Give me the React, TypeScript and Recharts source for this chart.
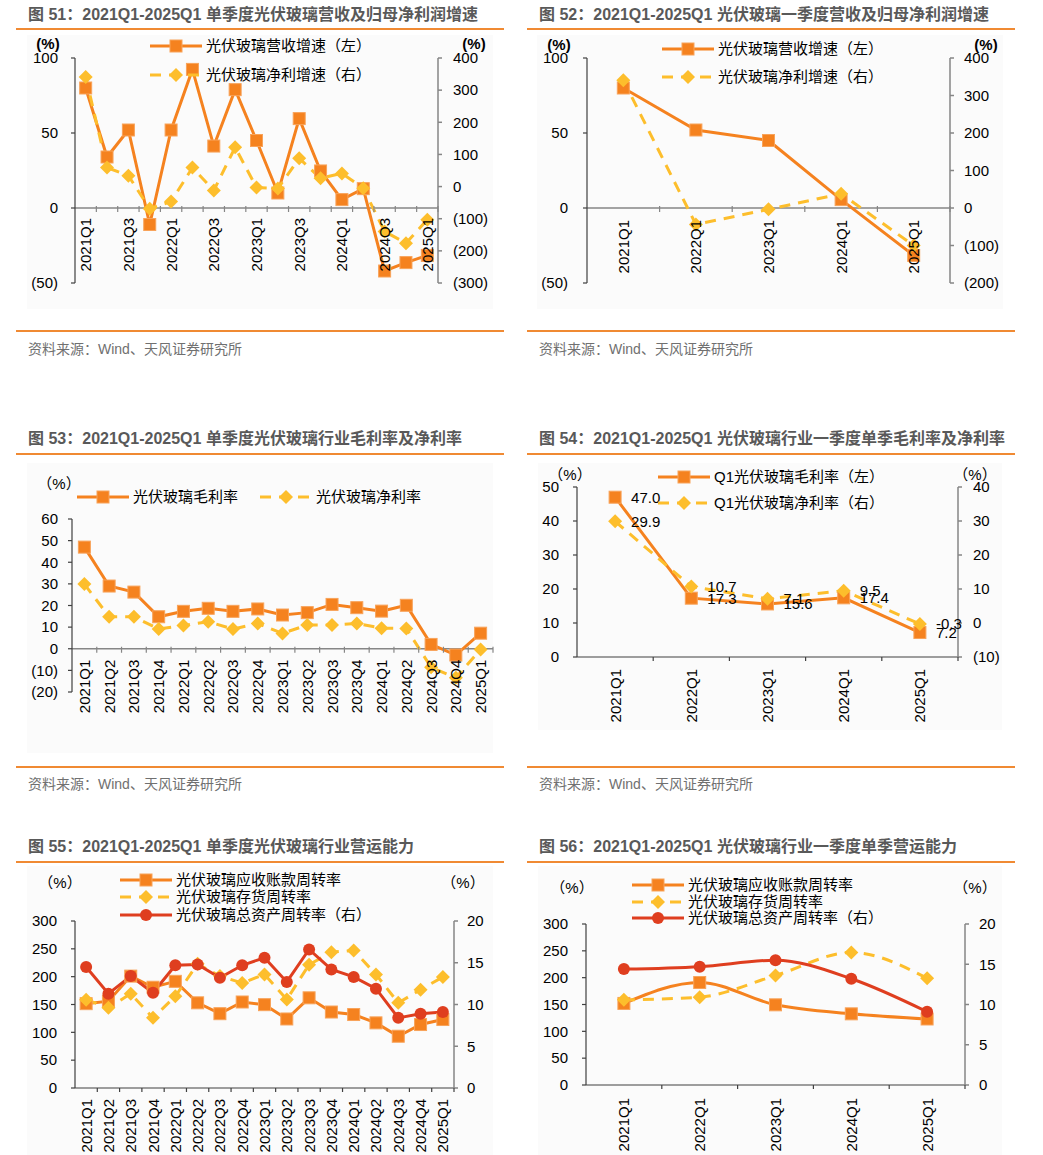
import React from 'react';
import { LineChart, Line, XAxis, YAxis, ReferenceLine, Legend, LabelList } from 'recharts';

// ---------- data ----------
const quarters = ['2021Q1', '2021Q2', '2021Q3', '2021Q4', '2022Q1', '2022Q2', '2022Q3', '2022Q4', '2023Q1', '2023Q2', '2023Q3', '2023Q4', '2024Q1', '2024Q2', '2024Q3', '2024Q4', '2025Q1'];
const firstQuarters = ['2021Q1', '2022Q1', '2023Q1', '2024Q1', '2025Q1'];

const revenueGrowth = [80, 34, 52, -11, 52, 92.4, 41.3, 78.9, 45, 10, 59.6, 24.7, 5.6, 12.9, -42, -36.4, -31.6];
const profitGrowth = [341, 59, 34, -69, -46.5, 59, -12, 122, -3, -6, 88, 26, 41, -5, -140, -176, -103];
const q1RevenueGrowth = [80, 52, 45, 5.6, -31.6];
const q1ProfitGrowth = [341, -44, -3.6, 38, -100];

const grossMargin = [47.0, 29, 26.2, 14.8, 17.3, 18.7, 17.3, 18.4, 15.6, 16.7, 20.5, 19, 17.4, 20.1, 2, -2.9, 7.2];
const netMargin = [29.9, 14.8, 14.8, 9.1, 10.7, 12.5, 9.1, 11.7, 7.1, 11, 11, 11.7, 9.5, 9.4, -8.6, -13.4, -0.3];
const q1GrossMargin = [47.0, 17.3, 15.6, 17.4, 7.2];
const q1NetMargin = [29.9, 10.7, 7.1, 9.5, -0.3];

const receivableTurnover = [151.5, 156, 201, 181, 191.6, 153, 133.5, 154.5, 149.7, 124, 162, 136.5, 132, 117, 93, 114, 123];
const inventoryTurnover = [158.7, 144, 169.5, 126, 164.7, 223, 201, 188.6, 204, 159, 221.6, 244, 247, 204, 153, 176.6, 199.4];
const assetTurnover = [14.5, 11.3, 13.4, 11.4, 14.7, 14.8, 13.2, 14.7, 15.6, 12.7, 16.6, 14.2, 13.3, 11.9, 8.4, 8.9, 9.1];
const q1Receivable = [152, 191, 149.4, 132.6, 123];
const q1Inventory = [158.7, 163.7, 204, 247, 199];
const q1Asset = [14.4, 14.7, 15.5, 13.2, 9.1];

// tick labels
const growthLeftTicks = [-50, 0, 50, 100];
const growthRightTicks51 = [-300, -200, -100, 0, 100, 200, 300, 400];
const growthRightTicks52 = [-200, -100, 0, 100, 200, 300, 400];
const marginTicks53 = [-20, -10, 0, 10, 20, 30, 40, 50, 60];
const marginLeftTicks54 = [0, 10, 20, 30, 40, 50];
const marginRightTicks54 = [-10, 0, 10, 20, 30, 40];
const turnoverLeftTicks = [0, 50, 100, 150, 200, 250, 300];
const turnoverRightTicks = [0, 5, 10, 15, 20];

// ---------- styles ----------
const FONT = '"Liberation Sans", Arial, "Noto Sans CJK SC", sans-serif';
const ORANGE = '#F5821F';
const YELLOW = '#FDBE2C';
const RED = '#DF3E1F';
const AXIS_DARK = '#404040';
const AXIS_GRAY = '#868686';
const RULE = '#F08A33';
const TITLE = '#595959';

const fmtParen = (v: number) => (v < 0 ? `(${-v})` : `${v}`);

type Marker = 'square' | 'diamond' | 'circle';
type Series = { key: string; name: string; axis: 'left' | 'right'; color: string; dash?: string; marker: Marker; smooth?: boolean; labels?: boolean };

function drawMarker(marker: Marker, color: string, cx: number, cy: number, key?: string) {
  if (marker === 'square') return <rect key={key} x={cx - 6} y={cy - 6} width={12} height={12} fill={color} stroke="#F8A35A" strokeWidth={1} />;
  if (marker === 'diamond') return <polygon key={key} points={`${cx},${cy - 7} ${cx + 7},${cy} ${cx},${cy + 7} ${cx - 7},${cy}`} fill={color} />;
  return <circle key={key} cx={cx} cy={cy} r={6} fill={color} />;
}

const makeDot = (s: Series) => (p: any) => {
  const { cx, cy, index } = p;
  if (cx == null || cy == null || isNaN(cx) || isNaN(cy)) return <g key={`d${s.key}${index}`} />;
  return drawMarker(s.marker, s.color, cx, cy, `d${s.key}${index}`);
};

type Cfg = {
  ox: number; oy: number; w: number; h: number;
  plot: { l: number; r: number; t: number; b: number };
  leftDomain: [number, number]; leftTicks: number[]; leftW: number; leftGap: number;
  rightDomain?: [number, number]; rightTicks?: number[]; rightW?: number; rightGap?: number;
  categories: string[]; values: Record<string, number[]>; series: Series[];
  zeroAxis: boolean; labelEvery: number; labelGap: number; xH: number;
  legendPos: { x: number; y: number }[];
  pct: { x: number; y: number; text: string; bold?: boolean }[];
};

function Panel({ cfg }: { cfg: Cfg }) {
  const { ox, oy, w, h, plot } = cfg;
  const hasRight = !!cfg.rightDomain;
  const margin = {
    left: plot.l - ox - cfg.leftW,
    right: ox + w - plot.r - (hasRight ? cfg.rightW! : 0),
    top: plot.t - oy,
    bottom: oy + h - plot.b - cfg.xH,
  };
  const ph = plot.b - plot.t;
  const band = (plot.r - plot.l) / cfg.categories.length;
  const shift = cfg.zeroAxis ? ((0 - cfg.leftDomain[0]) / (cfg.leftDomain[1] - cfg.leftDomain[0])) * ph : 0;
  const data = cfg.categories.map((c, i) => {
    const row: any = { cat: c };
    cfg.series.forEach((s) => (row[s.key] = cfg.values[s.key][i]));
    return row;
  });

  const tick = (p: any) => {
    const { x, y, payload, index } = p;
    const zy = y - shift;
    const bx = x + band / 2;
    const ty = zy + cfg.labelGap;
    return (
      <g>
        <line x1={bx} x2={bx} y1={cfg.zeroAxis ? zy - 2 : zy} y2={zy + 4} stroke={cfg.zeroAxis ? AXIS_GRAY : AXIS_DARK} strokeWidth={1.2} />
        {index % cfg.labelEvery === 0 && (
          <text x={x} y={ty} transform={`rotate(-90 ${x} ${ty})`} textAnchor="end" dominantBaseline="central" fontSize={15} fill="#000" fontFamily={FONT}>
            {payload.value}
          </text>
        )}
      </g>
    );
  };

  const legendContent = (props: any) => {
    const payload: any[] = props.payload || [];
    return (
      <div style={{ position: 'relative', width: w, height: h, pointerEvents: 'none' }}>
        {payload.map((entry: any) => {
          const idx = cfg.series.findIndex((s) => s.key === entry.dataKey);
          if (idx < 0) return null;
          const s = cfg.series[idx];
          const pos = cfg.legendPos[idx];
          return (
            <div key={s.key} style={{ position: 'absolute', left: pos.x - ox, top: pos.y - oy - 10, height: 20, display: 'flex', alignItems: 'center', whiteSpace: 'nowrap' }}>
              <svg width={52} height={20} style={{ display: 'block' }}>
                <line x1={0} x2={52} y1={10} y2={10} stroke={s.color} strokeWidth={3} strokeDasharray={s.dash} />
                {drawMarker(s.marker, s.color, 26, 10)}
              </svg>
              <span style={{ marginLeft: 4, fontSize: 15, color: '#000', fontFamily: FONT, lineHeight: '20px' }}>{entry.value}</span>
            </div>
          );
        })}
      </div>
    );
  };

  return (
    <div style={{ position: 'absolute', left: ox, top: oy, width: w, height: h }}>
      <LineChart width={w} height={h} data={data} margin={margin} style={{ fontFamily: FONT }}>
        <XAxis
          dataKey="cat"
          scale="point"
          padding={{ left: band / 2, right: band / 2 }}
          height={cfg.xH}
          tickSize={0}
          tickMargin={0}
          tickLine={false}
          axisLine={cfg.zeroAxis ? false : { stroke: AXIS_DARK, strokeWidth: 1.2 }}
          interval={0}
          tick={tick}
        />
        <YAxis
          yAxisId="left"
          type="number"
          domain={cfg.leftDomain}
          ticks={cfg.leftTicks}
          interval={0}
          allowDataOverflow
          width={cfg.leftW}
          tickSize={4}
          tickMargin={cfg.leftGap - 4}
          axisLine={{ stroke: AXIS_DARK, strokeWidth: 1.2 }}
          tickLine={{ stroke: AXIS_DARK, strokeWidth: 1.2 }}
          tick={{ fill: '#000', fontSize: 15, fontFamily: FONT }}
          tickFormatter={fmtParen}
        />
        {hasRight && (
          <YAxis
            yAxisId="right"
            orientation="right"
            type="number"
            domain={cfg.rightDomain}
            ticks={cfg.rightTicks}
            interval={0}
            allowDataOverflow
            width={cfg.rightW}
            tickSize={4}
            tickMargin={cfg.rightGap! - 4}
            axisLine={{ stroke: AXIS_GRAY, strokeWidth: 1.5 }}
            tickLine={{ stroke: AXIS_GRAY, strokeWidth: 1.5 }}
            tick={{ fill: '#000', fontSize: 15, fontFamily: FONT }}
            tickFormatter={fmtParen}
          />
        )}
        {cfg.zeroAxis && <ReferenceLine y={0} yAxisId="left" stroke={AXIS_GRAY} strokeWidth={1.5} />}
        {cfg.series.map((s) => (
          <Line
            key={s.key}
            yAxisId={s.axis}
            dataKey={s.key}
            name={s.name}
            type={s.smooth ? 'monotone' : 'linear'}
            stroke={s.color}
            strokeWidth={3}
            strokeDasharray={s.dash}
            dot={makeDot(s)}
            activeDot={false}
            isAnimationActive={false}
          >
            {s.labels && (
              <LabelList
                dataKey={s.key}
                position="right"
                offset={16}
                fill="#000"
                fontSize={15}
                fontFamily={FONT}
                formatter={(v: any) => Number(v).toFixed(1)}
              />
            )}
          </Line>
        ))}
        <Legend
          layout="horizontal"
          verticalAlign="middle"
          align="center"
          content={legendContent}
          wrapperStyle={{ left: 0, top: 0, width: w, height: h, pointerEvents: 'none' }}
        />
      </LineChart>
      {cfg.pct.map((p, i) => (
        <div
          key={i}
          style={{ position: 'absolute', left: p.x - ox, top: p.y - oy, transform: 'translate(-50%, -50%)', fontSize: 15, fontWeight: p.bold ? 700 : 400, color: '#000', whiteSpace: 'nowrap', fontFamily: FONT, lineHeight: '18px' }}
        >
          {p.text}
        </div>
      ))}
    </div>
  );
}

const growthSeries: Series[] = [
  { key: 'rev', name: '光伏玻璃营收增速（左）', axis: 'left', color: ORANGE, marker: 'square' },
  { key: 'profit', name: '光伏玻璃净利增速（右）', axis: 'right', color: YELLOW, dash: '11 8', marker: 'diamond' },
];
const marginSeries53: Series[] = [
  { key: 'gross', name: '光伏玻璃毛利率', axis: 'left', color: ORANGE, marker: 'square' },
  { key: 'net', name: '光伏玻璃净利率', axis: 'left', color: YELLOW, dash: '11 8', marker: 'diamond' },
];
const marginSeries54: Series[] = [
  { key: 'gross', name: 'Q1光伏玻璃毛利率（左）', axis: 'left', color: ORANGE, marker: 'square', labels: true },
  { key: 'net', name: 'Q1光伏玻璃净利率（右）', axis: 'right', color: YELLOW, dash: '11 8', marker: 'diamond', labels: true },
];
const turnoverSeries = (smooth: boolean): Series[] => [
  { key: 'recv', name: '光伏玻璃应收账款周转率', axis: 'left', color: ORANGE, marker: 'square', smooth },
  { key: 'inv', name: '光伏玻璃存货周转率', axis: 'left', color: YELLOW, dash: '11 8', marker: 'diamond', smooth },
  { key: 'asset', name: '光伏玻璃总资产周转率（右）', axis: 'right', color: RED, marker: 'circle', smooth },
];

const cfg51: Cfg = {
  ox: 16, oy: 35, w: 488, h: 290,
  plot: { l: 75, r: 438, t: 58, b: 283 },
  leftDomain: [-50, 100], leftTicks: growthLeftTicks, leftW: 50, leftGap: 17,
  rightDomain: [-300, 400], rightTicks: growthRightTicks51, rightW: 56, rightGap: 15,
  categories: quarters, values: { rev: revenueGrowth, profit: profitGrowth }, series: growthSeries,
  zeroAxis: true, labelEvery: 2, labelGap: 10, xH: 1,
  legendPos: [{ x: 150, y: 46 }, { x: 150, y: 75 }],
  pct: [{ x: 48, y: 44, text: '(%)', bold: true }, { x: 474, y: 44, text: '(%)', bold: true }],
};
const cfg52: Cfg = {
  ox: 527, oy: 35, w: 488, h: 290,
  plot: { l: 587, r: 950, t: 58, b: 283 },
  leftDomain: [-50, 100], leftTicks: growthLeftTicks, leftW: 50, leftGap: 19,
  rightDomain: [-200, 400], rightTicks: growthRightTicks52, rightW: 56, rightGap: 14,
  categories: firstQuarters, values: { rev: q1RevenueGrowth, profit: q1ProfitGrowth }, series: growthSeries,
  zeroAxis: true, labelEvery: 1, labelGap: 12, xH: 1,
  legendPos: [{ x: 662, y: 49 }, { x: 662, y: 77 }],
  pct: [{ x: 559, y: 45, text: '(%)', bold: true }, { x: 986, y: 45, text: '(%)', bold: true }],
};
const cfg53: Cfg = {
  ox: 16, oy: 460, w: 488, h: 300,
  plot: { l: 72, r: 493, t: 519, b: 692 },
  leftDomain: [-20, 60], leftTicks: marginTicks53, leftW: 50, leftGap: 14,
  categories: quarters, values: { gross: grossMargin, net: netMargin }, series: marginSeries53,
  zeroAxis: true, labelEvery: 1, labelGap: 11, xH: 1,
  legendPos: [{ x: 77, y: 497 }, { x: 260, y: 497 }],
  pct: [{ x: 59, y: 484, text: '（%）' }],
};
const cfg54: Cfg = {
  ox: 527, oy: 460, w: 488, h: 300,
  plot: { l: 577, r: 958, t: 487, b: 657 },
  leftDomain: [0, 50], leftTicks: marginLeftTicks54, leftW: 45, leftGap: 18,
  rightDomain: [-10, 40], rightTicks: marginRightTicks54, rightW: 50, rightGap: 15,
  categories: firstQuarters, values: { gross: q1GrossMargin, net: q1NetMargin }, series: marginSeries54,
  zeroAxis: false, labelEvery: 1, labelGap: 12, xH: 70,
  legendPos: [{ x: 658, y: 477 }, { x: 658, y: 503 }],
  pct: [{ x: 570, y: 475, text: '（%）' }, { x: 975, y: 475, text: '（%）' }],
};
const cfg55: Cfg = {
  ox: 16, oy: 868, w: 488, h: 287,
  plot: { l: 75, r: 454, t: 921, b: 1088 },
  leftDomain: [0, 300], leftTicks: turnoverLeftTicks, leftW: 50, leftGap: 18,
  rightDomain: [0, 20], rightTicks: turnoverRightTicks, rightW: 45, rightGap: 13,
  categories: quarters, values: { recv: receivableTurnover, inv: inventoryTurnover, asset: assetTurnover }, series: turnoverSeries(false),
  zeroAxis: false, labelEvery: 1, labelGap: 11, xH: 60,
  legendPos: [{ x: 120, y: 880 }, { x: 120, y: 897 }, { x: 120, y: 915 }],
  pct: [{ x: 60, y: 883, text: '（%）' }, { x: 463, y: 883, text: '（%）' }],
};
const cfg56: Cfg = {
  ox: 527, oy: 868, w: 488, h: 287,
  plot: { l: 586, r: 965, t: 924, b: 1085 },
  leftDomain: [0, 300], leftTicks: turnoverLeftTicks, leftW: 50, leftGap: 18,
  rightDomain: [0, 20], rightTicks: turnoverRightTicks, rightW: 45, rightGap: 14,
  categories: firstQuarters, values: { recv: q1Receivable, inv: q1Inventory, asset: q1Asset }, series: turnoverSeries(true),
  zeroAxis: false, labelEvery: 1, labelGap: 13, xH: 60,
  legendPos: [{ x: 632, y: 885 }, { x: 632, y: 902 }, { x: 632, y: 918 }],
  pct: [{ x: 572, y: 888, text: '（%）' }, { x: 975, y: 888, text: '（%）' }],
};

const titles = [
  { x: 28, y: 15, text: '图 51：2021Q1-2025Q1 单季度光伏玻璃营收及归母净利润增速' },
  { x: 539, y: 15, text: '图 52：2021Q1-2025Q1 光伏玻璃一季度营收及归母净利润增速' },
  { x: 28, y: 439, text: '图 53：2021Q1-2025Q1 单季度光伏玻璃行业毛利率及净利率' },
  { x: 539, y: 439, text: '图 54：2021Q1-2025Q1 光伏玻璃行业一季度单季毛利率及净利率' },
  { x: 28, y: 847, text: '图 55：2021Q1-2025Q1 单季度光伏玻璃行业营运能力' },
  { x: 539, y: 847, text: '图 56：2021Q1-2025Q1 光伏玻璃行业一季度单季营运能力' },
];
const rules = [
  { x: 16, w: 488, y: 29 }, { x: 527, w: 488, y: 29 },
  { x: 16, w: 488, y: 331 }, { x: 527, w: 488, y: 331 },
  { x: 16, w: 488, y: 454 }, { x: 527, w: 488, y: 454 },
  { x: 16, w: 488, y: 767 }, { x: 527, w: 488, y: 767 },
  { x: 16, w: 488, y: 862 }, { x: 527, w: 488, y: 862 },
];
const sources = [
  { x: 28, y: 349 }, { x: 539, y: 349 }, { x: 28, y: 784 }, { x: 539, y: 784 },
];
const panelsBg = [
  { x: 27, y: 35, w: 466, h: 274 }, { x: 537, y: 35, w: 466, h: 274 },
  { x: 27, y: 463, w: 466, h: 290 }, { x: 538, y: 463, w: 464, h: 267 },
  { x: 27, y: 866, w: 466, h: 289 }, { x: 538, y: 866, w: 464, h: 289 },
];

export default function App() {
  return (
    <div style={{ position: 'absolute', left: 0, top: 0, width: 1043, height: 1155, background: '#fff', fontFamily: FONT, overflow: 'hidden' }}>
      {panelsBg.map((b, i) => (
        <div key={`bg${i}`} style={{ position: 'absolute', left: b.x, top: b.y, width: b.w, height: b.h, background: '#fbfbfb' }} />
      ))}
      {titles.map((t, i) => (
        <div key={`t${i}`} style={{ position: 'absolute', left: t.x, top: t.y - 11, lineHeight: '22px', fontSize: 16, fontWeight: 700, color: TITLE, whiteSpace: 'nowrap' }}>
          {t.text}
        </div>
      ))}
      {rules.map((r, i) => (
        <div key={`r${i}`} style={{ position: 'absolute', left: r.x, top: r.y - 1, width: r.w, height: 1.6, background: RULE }} />
      ))}
      {sources.map((s, i) => (
        <div key={`s${i}`} style={{ position: 'absolute', left: s.x, top: s.y - 10, lineHeight: '20px', fontSize: 14, color: '#707070', whiteSpace: 'nowrap' }}>
          资料来源：Wind、天风证券研究所
        </div>
      ))}
      <Panel cfg={cfg51} />
      <Panel cfg={cfg52} />
      <Panel cfg={cfg53} />
      <Panel cfg={cfg54} />
      <Panel cfg={cfg55} />
      <Panel cfg={cfg56} />
    </div>
  );
}
